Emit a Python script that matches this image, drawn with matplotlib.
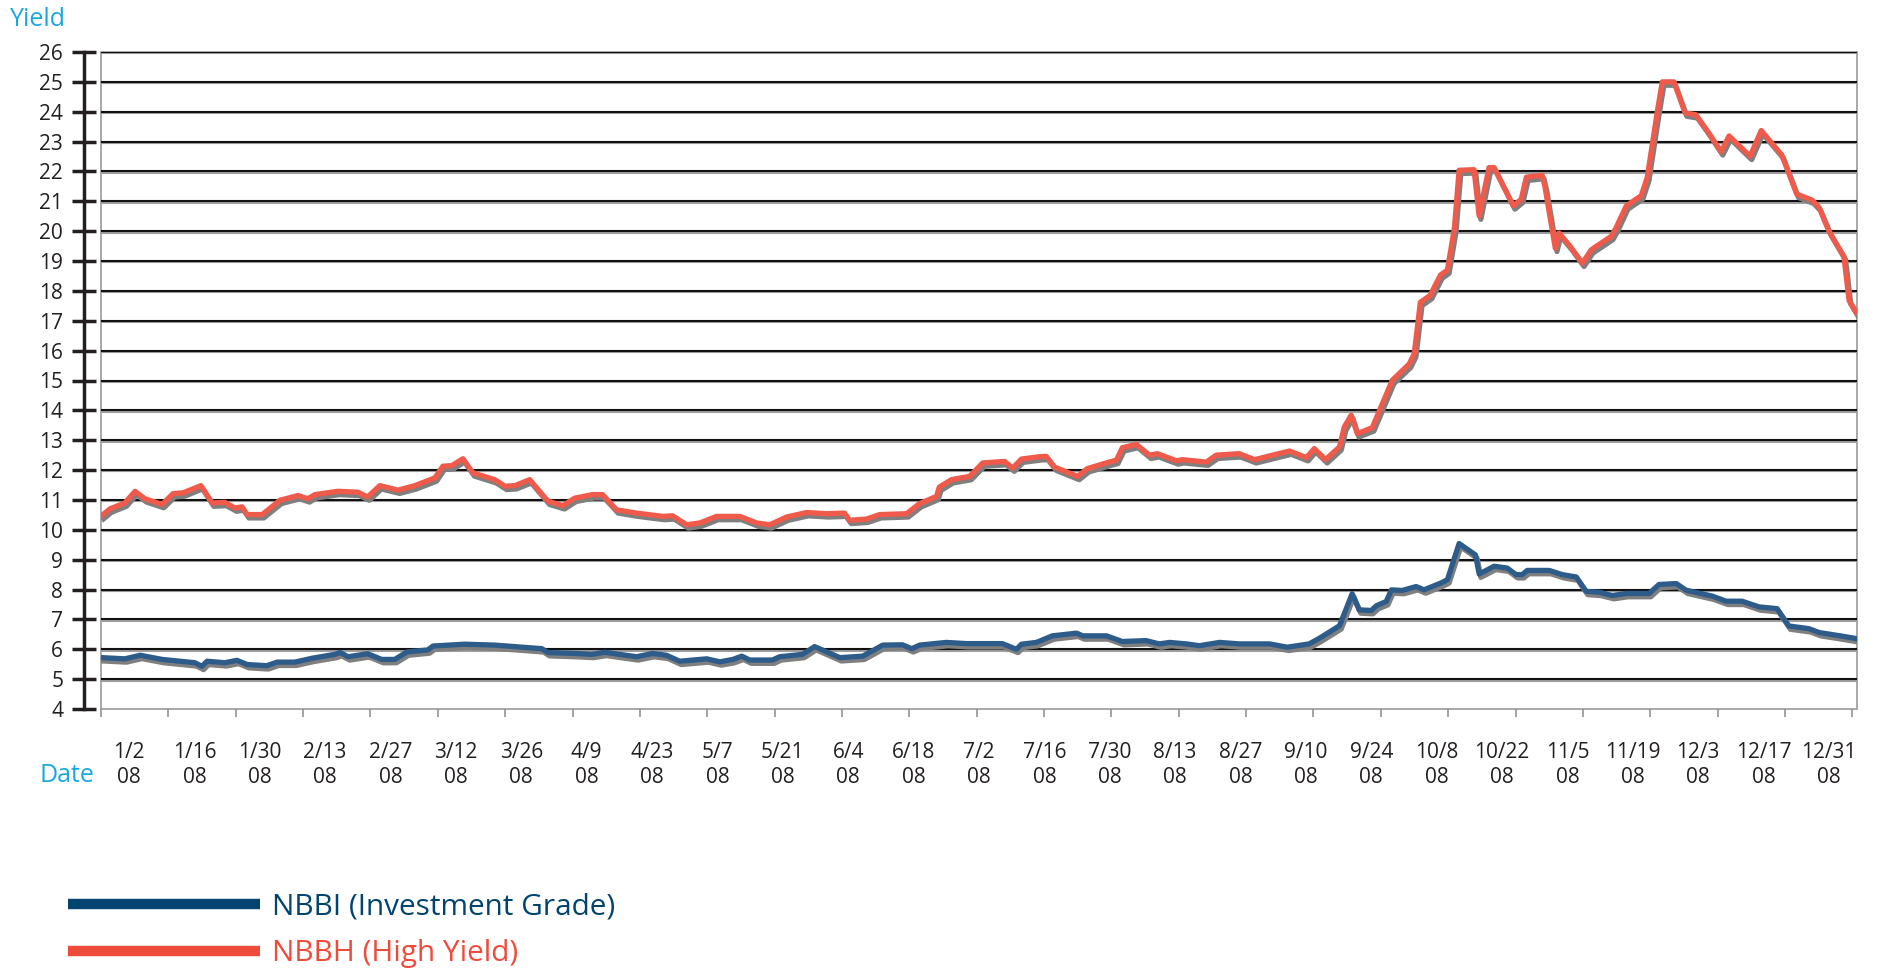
import numpy as np
import matplotlib
matplotlib.use("Agg")
import matplotlib.pyplot as plt
import matplotlib.patheffects as pe
from matplotlib.lines import Line2D
from matplotlib.patches import Rectangle

plt.rcParams["font.family"] = ["Open Sans", "DejaVu Sans"]

# --- data (day offset from 1/2/08, yield %) ---
red_day = [-5.8, -4.1, -0.9, 1.3, 3.4, 7.1, 9.4, 11.6, 15.4, 17.8, 20.5, 22.7, 24.2, 25.3,
           28.5, 32.3, 36.2, 38.3, 39.8, 44.7, 49.0, 51.1, 53.7, 57.6, 61.2, 65.5, 67.2, 69.1,
           71.5, 73.6, 78.3, 80.5, 82.6, 85.8, 89.7, 92.9, 95.4, 99.3, 101.4, 104.4, 108.7,
           114.3, 116.4, 119.4, 122.2, 125.8, 130.8, 134.4, 137.2, 140.8, 145.1, 149.4, 153.2,
           154.3, 157.9, 160.7, 166.5, 169.3, 172.9, 173.5, 176.1, 180.0, 182.8, 187.5, 189.2,
           191.1, 195.0, 196.4, 198.2, 201.4, 203.1, 205.2, 209.9, 211.4, 212.7, 215.7, 218.5,
           220.2, 224.3, 225.5, 230.7, 232.8, 237.7, 241.0, 248.5, 252.1, 253.8, 256.2, 259.2,
           260.2, 261.7, 263.0, 266.2, 268.4, 270.5, 274.1, 275.2, 276.5, 278.6, 280.8, 282.3,
           283.8, 284.8, 288.0, 289.1, 290.2, 291.2, 292.3, 296.4, 298.1, 299.2, 302.6, 303.2,
           305.4, 306.2, 308.6, 311.2, 313.1, 317.4, 318.4, 320.6, 323.8, 325.1, 327.2, 328.3,
           330.8, 333.2, 335.5, 338.3, 340.9, 342.6, 347.1, 349.5, 353.9, 357.1, 360.4, 361.9,
           364.0, 367.2, 368.3, 369.8]
red_val = [10.48, 10.70, 10.90, 11.29, 11.04, 10.85, 11.21, 11.24, 11.48, 10.90, 10.92, 10.73,
           10.77, 10.51, 10.51, 10.99, 11.15, 11.04, 11.18, 11.29, 11.26, 11.10, 11.48, 11.33,
           11.48, 11.74, 12.13, 12.15, 12.38, 11.91, 11.68, 11.46, 11.48, 11.68, 10.96, 10.81,
           11.06, 11.18, 11.18, 10.67, 10.56, 10.45, 10.47, 10.17, 10.23, 10.45, 10.45, 10.23,
           10.17, 10.43, 10.58, 10.54, 10.56, 10.32, 10.36, 10.51, 10.54, 10.88, 11.12, 11.43,
           11.68, 11.79, 12.24, 12.29, 12.07, 12.37, 12.45, 12.46, 12.10, 11.90, 11.79, 12.05,
           12.27, 12.33, 12.75, 12.86, 12.50, 12.55, 12.31, 12.35, 12.27, 12.50, 12.55, 12.35,
           12.64, 12.42, 12.72, 12.35, 12.78, 13.44, 13.84, 13.22, 13.42, 14.23, 15.01, 15.55,
           15.90, 17.62, 17.85, 18.53, 18.70, 20.11, 22.04, 22.06, 20.51, 21.36, 22.13, 22.13,
           20.85, 21.07, 21.81, 21.87, 21.47, 19.43, 19.94, 19.49, 18.93, 19.38, 19.83, 20.11,
           20.85, 21.19, 21.81, 23.96, 25.00, 25.00, 23.96, 23.90, 23.28, 22.66, 23.19, 22.51,
           23.37, 22.55, 21.24, 21.04, 20.79, 20.00, 19.15, 17.68, 17.29]

blue_day = [-5.8, -0.9, 2.4, 7.1, 14.1, 15.6, 16.7, 20.5, 23.1, 25.3, 29.5, 31.7, 35.5, 39.2,
            44.1, 45.2, 46.9, 51.1, 54.1, 56.9, 59.5, 64.0, 65.1, 71.9, 78.3, 88.4, 89.7, 95.4,
            99.1, 101.9, 103.6, 108.7, 112.1, 115.1, 117.9, 123.7, 126.5, 129.3, 131.2, 132.9,
            137.8, 139.3, 144.2, 146.8, 152.2, 157.1, 161.4, 165.6, 167.6, 169.3, 175.0, 179.3,
            187.0, 190.0, 191.1, 194.3, 197.7, 202.9, 204.2, 209.3, 212.7, 217.8, 220.6, 222.8,
            226.4, 229.2, 233.5, 237.7, 244.2, 248.0, 252.7, 254.9, 259.2, 261.9, 263.4, 266.0,
            267.1, 269.2, 270.3, 272.6, 275.6, 277.3, 281.2, 282.3, 284.8, 288.3, 289.1, 292.3,
            295.1, 297.0, 298.3, 299.4, 304.1, 306.9, 309.9, 312.0, 314.8, 317.6, 320.6, 325.5,
            327.6, 331.3, 333.4, 339.0, 342.0, 345.4, 349.0, 352.9, 355.4, 359.7, 361.9, 366.8,
            369.8]
blue_val = [5.72, 5.68, 5.80, 5.66, 5.55, 5.43, 5.60, 5.55, 5.63, 5.49, 5.45, 5.57, 5.57, 5.70,
            5.83, 5.89, 5.75, 5.85, 5.66, 5.66, 5.91, 5.98, 6.11, 6.17, 6.14, 6.02, 5.89, 5.86,
            5.83, 5.90, 5.86, 5.75, 5.86, 5.80, 5.60, 5.68, 5.58, 5.66, 5.77, 5.64, 5.64, 5.75,
            5.83, 6.09, 5.72, 5.77, 6.14, 6.15, 6.02, 6.14, 6.23, 6.19, 6.19, 6.00, 6.17, 6.23,
            6.45, 6.54, 6.45, 6.45, 6.26, 6.29, 6.18, 6.23, 6.18, 6.12, 6.23, 6.18, 6.18, 6.07,
            6.18, 6.37, 6.79, 7.86, 7.32, 7.30, 7.46, 7.60, 7.99, 7.97, 8.10, 7.99, 8.24, 8.33,
            9.54, 9.16, 8.52, 8.78, 8.72, 8.50, 8.50, 8.64, 8.64, 8.50, 8.42, 7.94, 7.91, 7.80,
            7.87, 7.87, 8.17, 8.20, 7.98, 7.78, 7.61, 7.61, 7.42, 7.36, 6.78, 6.69, 6.56, 6.44,
            6.36]

date_labels = ["1/2", "1/16", "1/30", "2/13", "2/27", "3/12", "3/26", "4/9", "4/23", "5/7",
               "5/21", "6/4", "6/18", "7/2", "7/16", "7/30", "8/13", "8/27", "9/10", "9/24",
               "10/8", "10/22", "11/5", "11/19", "12/3", "12/17", "12/31"]
label_days = [14 * i for i in range(len(date_labels))]
y_ticks = list(range(4, 27))
series_names = ["NBBI (Investment Grade)", "NBBH (High Yield)"]

BLUE = "#2d5c8a"
BLUE_LEG = "#00446f"
RED = "#ef5a4b"
RED_LEG = "#ee4b3b"
CYAN = "#1aa7e1"
INK = "#231f20"

fig = plt.figure(figsize=(18.81, 9.73), dpi=100)
ax = fig.add_axes([101 / 1881, 1 - 709 / 973, 1756 / 1881, 657 / 973])
ax.set_xlim(-6, 370)
ax.set_ylim(4, 26)

# horizontal grid with a grey under-shadow
for v in y_ticks[1:]:
    ax.axhline(v, color="#111111", lw=1.5, zorder=1,
               path_effects=[pe.SimpleLineShadow(offset=(0, -1), shadow_color="#a0a0a0", alpha=1),
                             pe.Normal()])

# plot frame
ax.add_patch(Rectangle((0, 0), 1, 1, transform=ax.transAxes, fill=False,
                       ec="#9a9a9a", lw=1.2, zorder=0.5, clip_on=False))

shadow = [pe.SimpleLineShadow(offset=(1.2, -2.4), shadow_color="#7f7f7f", alpha=1), pe.Normal()]
ax.plot(blue_day, blue_val, color=BLUE, lw=3.8, path_effects=shadow, zorder=3)
ax.plot(red_day, red_val, color=RED, lw=3.8, path_effects=shadow, zorder=3)

# axes styling
for s in ["top", "right", "bottom"]:
    ax.spines[s].set_visible(False)
ax.spines["left"].set_position(("outward", 12.2))
ax.spines["left"].set_linewidth(2.5)
ax.spines["left"].set_color(INK)

ax.set_yticks(y_ticks)
ax.tick_params(axis="y", direction="inout", length=17, width=2.5, color=INK,
               labelsize=15, labelcolor=INK, pad=6.5)

ax.set_xticks(label_days)
ax.set_xticklabels([f"{d}\n08" for d in date_labels])
ax.tick_params(axis="x", which="major", length=0, pad=24, labelsize=15, labelcolor=INK)
ax.set_xticks(np.linspace(-6, 369, 27), minor=True)
ax.tick_params(axis="x", which="minor", direction="out", length=5.8, width=1.1, color="#8c8c8c")

fig.text(10 / 1881, 1 - 19 / 973, "Yield", color=CYAN, fontsize=18, va="center", ha="left")
fig.text(40 / 1881, 1 - 776 / 973, "Date", color=CYAN, fontsize=18, va="center", ha="left")

handles = [Line2D([], [], color=BLUE_LEG, lw=7.5, solid_capstyle="butt"),
           Line2D([], [], color=RED_LEG, lw=7.5, solid_capstyle="butt")]
leg = fig.legend(handles, series_names, loc="center left",
                 bbox_to_anchor=(68 / 1881, 1 - 930 / 973), frameon=False, fontsize=21.4,
                 handlelength=6.45, handletextpad=0.42, labelspacing=0.6,
                 borderpad=0, borderaxespad=0)
for t, c in zip(leg.get_texts(), [BLUE_LEG, RED_LEG]):
    t.set_color(c)

fig.savefig("out.png", dpi=100)
